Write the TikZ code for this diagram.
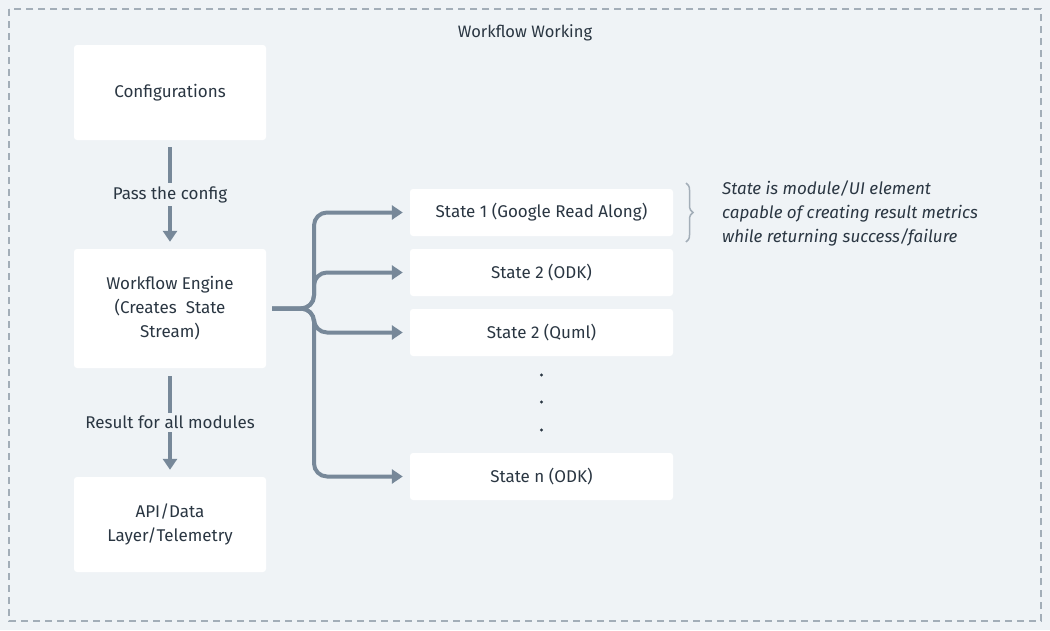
\documentclass[tikz,border=0pt]{standalone}
\usepackage{fontspec}
\setmainfont{Fira Sans}
\usetikzlibrary{arrows.meta,decorations.pathreplacing}
\definecolor{bg}{HTML}{EFF3F6}
\definecolor{edge}{HTML}{778899}
\definecolor{frame}{HTML}{A3AEB8}
\definecolor{txt}{HTML}{2A3642}
\tikzset{
  box/.style={fill=white, rounded corners=3pt, inner sep=0pt, align=center, text=txt, font=\fontsize{17}{24}\selectfont},
  bigbox/.style={box, minimum width=192pt, minimum height=95pt},
  statebox/.style={box, minimum width=263pt, minimum height=47pt},
  arr/.style={draw=edge, line width=4pt, -{Triangle[length=11pt,width=14pt]}},
  lbl/.style={fill=bg, text=txt, inner sep=3pt, font=\fontsize{17}{24}\selectfont},
}
\begin{document}
\begin{tikzpicture}[x=1pt,y=-1pt]
\fill[bg] (0,0) rectangle (1050,630);
\useasboundingbox (0,0) rectangle (1050,630);
\draw[frame, line width=1.6pt, dash pattern=on 7pt off 5pt] (9,9) rectangle (1041,621);
\node[text=txt, font=\fontsize{16.5}{24}\selectfont] (title) at (525,33) {Workflow Working};

\node[bigbox] (config) at (170,92.5) {Configurations};
\node[box, minimum width=192pt, minimum height=119pt] (engine) at (170,308.5) {Workflow Engine\\(Creates\ \ State\\Stream)};
\node[bigbox] (api) at (170,524.5) {API/Data\\Layer/Telemetry};

\node[statebox] (s1) at (541.5,212.5) {State 1 (Google Read Along)};
\node[statebox] (s2) at (541.5,272.5) {State 2 (ODK)};
\node[statebox] (s3) at (541.5,332.5) {State 2 (Quml)};
\node[statebox] (sn) at (541.5,476.5) {State n (ODK)};

\draw[arr, shorten <=7pt, shorten >=7pt] (config.south) -- node[lbl] (l1) {Pass the config} (engine.north);
\draw[arr, shorten <=8pt, shorten >=7pt] (engine.south) -- node[lbl] (l2) {Result for all modules} (api.north);

\coordinate (fork) at (272,308.5);
\coordinate (bend) at (314,308.5);
\foreach \t in {s1,s2,s3,sn}{
  \draw[arr, rounded corners=13pt, shorten >=7pt] (fork) -- (bend) |- (\t.west);
}

\foreach \y in {375,402,430}{
  \node[circle, fill=txt, inner sep=0pt, minimum size=3.2pt] at (541.5,\y) {};
}

\draw[frame, line width=1.5pt, decorate, decoration={brace, amplitude=7pt, mirror}] (686,242) -- (686,183);
\node[anchor=west, align=left, inner sep=0pt, text=txt, font=\fontsize{17}{24}\selectfont\itshape] (note) at (722,213) {State is module/UI element\\capable of creating result metrics\\while returning success/failure};
\end{tikzpicture}
\end{document}
